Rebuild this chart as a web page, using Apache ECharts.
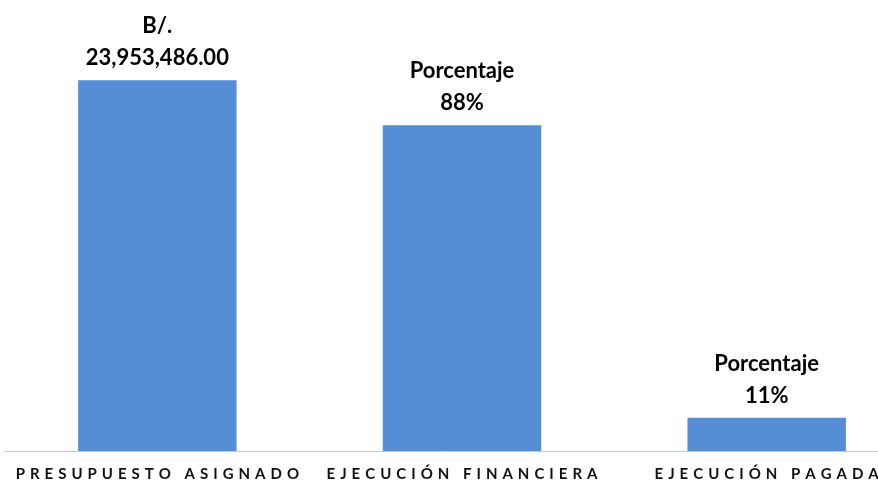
<!DOCTYPE html>
<html>
<head>
<meta charset="utf-8">
<script src="https://cdn.jsdelivr.net/npm/echarts@6/dist/echarts.min.js"></script>
<style>
  html, body { margin: 0; padding: 0; background: #fff; }
  #chart { width: 878px; height: 487px; }
</style>
</head>
<body>
<div id="chart"></div>
<script>
// datos del gráfico
const categories = ['PRESUPUESTO ASIGNADO', 'EJECUCIÓN FINANCIERA', 'EJECUCIÓN PAGADA'];
const values = [23953486, 21050000, 2150000];
const labelTitles = ['B/.', 'Porcentaje', 'Porcentaje'];
const labelValues = ['23,953,486.00', '88%', '11%'];

// separar letras para imitar el espaciado del original
const spread = (s) => s.split('').join('\u2004');

const chart = echarts.init(document.getElementById('chart'));
chart.setOption({
  animation: false,
  grid: {
    left: 5,
    right: -41,
    top: 64,
    bottom: 36,
    outerBoundsMode: 'none'
  },
  xAxis: {
    type: 'category',
    data: categories,
    axisTick: { show: false },
    axisLine: { lineStyle: { color: '#b9c9e2', width: 1 } },
    axisLabel: {
      interval: 0,
      margin: 16,
      fontFamily: 'Lato',
      fontWeight: 'bold',
      fontSize: 15,
      color: '#111',
      formatter: (v) => spread(v)
    }
  },
  yAxis: {
    type: 'value',
    min: 0,
    max: 25000000,
    show: false,
    splitLine: { show: false }
  },
  series: [{
    type: 'bar',
    data: values,
    barCategoryGap: '48%',
    itemStyle: { color: '#558ed5' },
    label: {
      show: true,
      position: 'top',
      distance: 6,
      fontFamily: 'Lato',
      fontWeight: 'bold',
      fontSize: 22,
      lineHeight: 32,
      color: '#000',
      formatter: (p) => labelTitles[p.dataIndex] + '\n' + labelValues[p.dataIndex]
    }
  }]
});
</script>
</body>
</html>
